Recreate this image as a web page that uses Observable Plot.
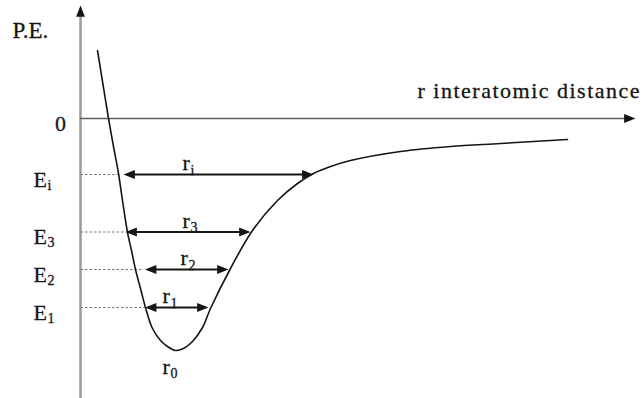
<!DOCTYPE html>
<html>
<head>
<meta charset="utf-8">
<script src="https://cdn.jsdelivr.net/npm/d3@7"></script>
<script src="https://cdn.jsdelivr.net/npm/@observablehq/plot@0.6"></script>
<style>
  html, body { margin: 0; padding: 0; background: #fff; }
</style>
</head>
<body>
<div id="chart"></div>
<script>
// Potential energy curve: r = interatomic distance, E = potential energy (arbitrary units)
const curveR = [0.34, 0.45, 0.56, 0.66, 0.76, 0.84, 0.94, 1.02, 1.10, 1.20, 1.30, 1.43, 1.60, 1.74, 1.90, 2.06, 2.24, 2.44, 2.60, 3.00, 3.44, 3.94, 4.34, 4.66, 5.00, 5.40, 6.40, 7.40, 8.40, 9.74];
const curveE = [1.36, 0.68, 0.00, -0.56, -1.10, -1.64, -2.28, -2.64, -3.02, -3.40, -3.78, -4.18, -4.44, -4.56, -4.64, -4.60, -4.46, -4.18, -3.80, -3.00, -2.24, -1.64, -1.30, -1.10, -0.96, -0.84, -0.66, -0.56, -0.50, -0.42];

// Energy levels E_i, E_3, E_2, E_1 and their widths r_i, r_3, r_2, r_1
const levelNames = ["i", "3", "2", "1"];
const levelE = [-1.12, -2.27, -3.02, -3.78];
const levelLeftR = [0.86, 0.90, 1.29, 1.29];
const levelRightR = [4.66, 3.40, 2.96, 2.56];
const levelDashEndR = [0.76, 0.90, 1.26, 1.30];
const widthLabelR = [2.04, 2.04, 2.00, 1.64];

// Equilibrium point r0
const minR = [1.90];
const minE = [-4.64];

// Axis extents and axis labels
const axisMinE = -5.6, axisMaxE = 2.26, axisMaxR = 11.1;
const energyLabelR = -0.94;
const peLabel = {t: "P.E.", r: -1.36, E: 1.76};
const zeroLabel = {t: "0", r: -0.40, E: -0.10};
const distLabel = {t: "r interatomic distance", r: 6.74, E: 0.56};

const curve = curveR.map((r, i) => ({r, E: curveE[i]}));
const levels = levelNames.map((name, i) => ({
  name, E: levelE[i], left: levelLeftR[i], right: levelRightR[i],
  dash: levelDashEndR[i], labelR: widthLabelR[i]
}));
const minimum = minR.map((r, i) => ({r, E: minE[i]}));
const yAxis = [{x1: 0, y1: axisMinE, x2: 0, y2: axisMaxE}];
const xAxis = [{x1: 0, y1: 0, x2: axisMaxR, y2: 0}];

// filled arrowhead symbol, tip at the origin, pointing right
const head = {
  draw(ctx, size) {
    const s = Math.sqrt(size);
    const L = s * 1.6, W = s * 0.62;
    ctx.moveTo(0, 0);
    ctx.lineTo(-L, -W);
    ctx.lineTo(-L, W);
    ctx.closePath();
  }
};

const ink = "#151515";
const font = "'Liberation Serif', 'Times New Roman', serif";
const txt = {fill: ink, stroke: ink, strokeWidth: 0.3, fontFamily: font};

const chart = Plot.plot({
  width: 644,
  height: 398,
  margin: 0,
  x: {domain: [-1.6, 11.28], axis: null},
  y: {domain: [axisMinE, 2.36], axis: null},
  style: {background: "#fff", fontFamily: font, color: ink},
  marks: [
    // axes
    Plot.arrow(yAxis, {x1: "x1", y1: "y1", x2: "x2", y2: "y2", stroke: "#9a9a9a", strokeWidth: 2.5, headLength: 0, insetEnd: 8}),
    Plot.arrow(xAxis, {x1: "x1", y1: "y1", x2: "x2", y2: "y2", stroke: "#5e5e5e", strokeWidth: 1.6, headLength: 0, insetEnd: 8}),
    Plot.dot(yAxis, {x: "x2", y: "y2", symbol: head, r: 4, rotate: -90, fill: ink, stroke: "none"}),
    Plot.dot(xAxis, {x: "x2", y: "y2", symbol: head, r: 4, rotate: 0, fill: ink, stroke: "none"}),
    // dashed level guides
    Plot.link(levels, {x1: d => 0, y1: "E", x2: "dash", y2: "E", stroke: "#777", strokeWidth: 1, strokeDasharray: "2.5,2"}),
    // potential curve
    Plot.line(curve, {x: "r", y: "E", curve: "catmull-rom", stroke: ink, strokeWidth: 1.6}),
    // double arrows
    Plot.arrow(levels, {x1: "left", y1: "E", x2: "right", y2: "E", stroke: ink, strokeWidth: 1.8, headLength: 0, inset: 6}),
    Plot.dot(levels, {x: "left", y: "E", symbol: head, r: 4, rotate: 180, fill: ink, stroke: "none"}),
    Plot.dot(levels, {x: "right", y: "E", symbol: head, r: 4, rotate: 0, fill: ink, stroke: "none"}),
    // level labels E_x
    Plot.text(levels, {x: d => energyLabelR, y: "E", text: d => "E", fontSize: 22, textAnchor: "start", dy: 5, ...txt}),
    Plot.text(levels, {x: d => energyLabelR, y: "E", text: "name", fontSize: 14, textAnchor: "start", dx: 14, dy: 11, ...txt}),
    // width labels r_x
    Plot.text(levels, {x: "labelR", y: "E", text: d => "r", fontSize: 22, textAnchor: "start", dy: -11.5, ...txt}),
    Plot.text(levels, {x: "labelR", y: "E", text: "name", fontSize: 14, textAnchor: "start", dx: 8, dy: -4, ...txt}),
    // r0
    Plot.text(minimum, {x: "r", y: "E", text: d => "r", fontSize: 22, textAnchor: "start", dx: -13, dy: 16, ...txt}),
    Plot.text(minimum, {x: "r", y: "E", text: d => "0", fontSize: 14, textAnchor: "start", dx: -5, dy: 23.5, ...txt}),
    // axis labels
    Plot.text([peLabel], {x: "r", y: "E", text: "t", textAnchor: "start", fontSize: 23, ...txt}),
    Plot.text([zeroLabel], {x: "r", y: "E", text: "t", textAnchor: "middle", fontSize: 22, ...txt}),
    Plot.text([distLabel], {x: "r", y: "E", text: "t", textAnchor: "start", fontSize: 22, ...txt})
  ]
});

chart.querySelectorAll("text").forEach(t => {
  if (t.textContent === "r interatomic distance") t.style.letterSpacing = "1.5px";
});

document.getElementById("chart").appendChild(chart);
</script>
</body>
</html>
